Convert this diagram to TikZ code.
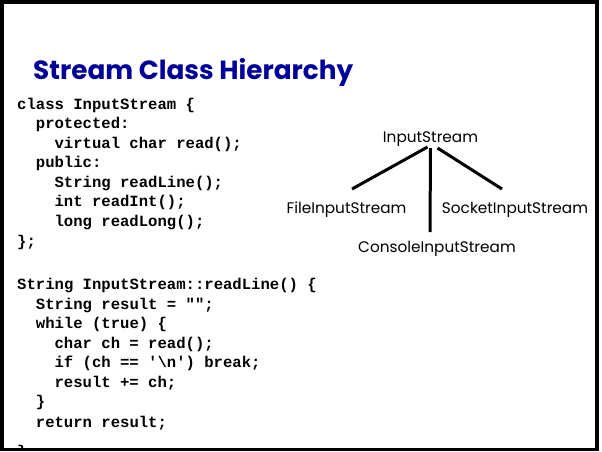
\documentclass[tikz,border=0pt]{standalone}
\usepackage{fontspec}
\setmainfont{Poppins}
\setmonofont{Liberation Mono}
\usetikzlibrary{calc}
\definecolor{titleblue}{RGB}{0,0,153}
\tikzset{
  codeline/.style={anchor=base west, inner sep=0pt,
    font=\ttfamily\bfseries\fontsize{15.6}{18}\selectfont},
  classname/.style={anchor=base, inner sep=0pt,
    font=\fontsize{15.3}{17}\selectfont},
  edge/.style={line width=3pt},
  slideframe/.style={line width=3.5pt},
  heading/.style={anchor=base west, inner sep=0pt, text=titleblue,
    font=\bfseries\fontsize{26.3}{30}\selectfont},
}

\begin{document}
\begin{tikzpicture}[x=1pt,y=-1pt]
\useasboundingbox (0,0) rectangle (602,451);

\begin{scope}
  \clip (3,3) rectangle (595,448);

  % heading
  \node[heading] (title) at (33,79) {Stream Class Hierarchy};

  % class declaration
  \node[codeline] (c1)  at (17,109)   {class InputStream \{};
  \node[codeline] (c2)  at (35.7,128.5) {protected:};
  \node[codeline] (c3)  at (54.4,148) {virtual char read();};
  \node[codeline] (c4)  at (35.7,167.5) {public:};
  \node[codeline] (c5)  at (54.4,187) {String readLine();};
  \node[codeline] (c6)  at (54.4,206.5) {int readInt();};
  \node[codeline] (c7)  at (54.4,226) {long readLong();};
  \node[codeline] (c8)  at (17,246)   {\};};

  % member definition
  \node[codeline] (c9)  at (17,289.5) {String InputStream::readLine() \{};
  \node[codeline] (c10) at (35.7,309) {String result = "";};
  \node[codeline] (c11) at (35.7,328.5) {while (true) \{};
  \node[codeline] (c12) at (54.4,348) {char ch = read();};
  \node[codeline] (c13) at (54.4,367.5) {if (ch == '\textbackslash n') break;};
  \node[codeline] (c14) at (54.4,387) {result += ch;};
  \node[codeline] (c15) at (35.7,406.5) {\}};
  \node[codeline] (c16) at (35.7,427) {return result;};
  \node[codeline] (c17) at (17,456)   {\}};

  % class hierarchy
  \node[classname] (root)    at (430.5,142) {InputStream};
  \node[classname] (file)    at (346.5,213) {FileInputStream};
  \node[classname] (socket)  at (515,213)   {SocketInputStream};
  \node[classname] (console) at (437,252)   {ConsoleInputStream};

  \draw[edge] ($(root.base)+(-3,5)$) -- ($(file.base)+(5.5,-24)$);
  \draw[edge] ($(root.base)+(0,6)$)  -- ($(console.base)+(-7,-20)$);
  \draw[edge] ($(root.base)+(7,6)$)  -- ($(socket.base)+(-13,-24)$);
\end{scope}

\draw[slideframe] (1.75,1.75) rectangle (597,449.25);
\end{tikzpicture}
\end{document}
